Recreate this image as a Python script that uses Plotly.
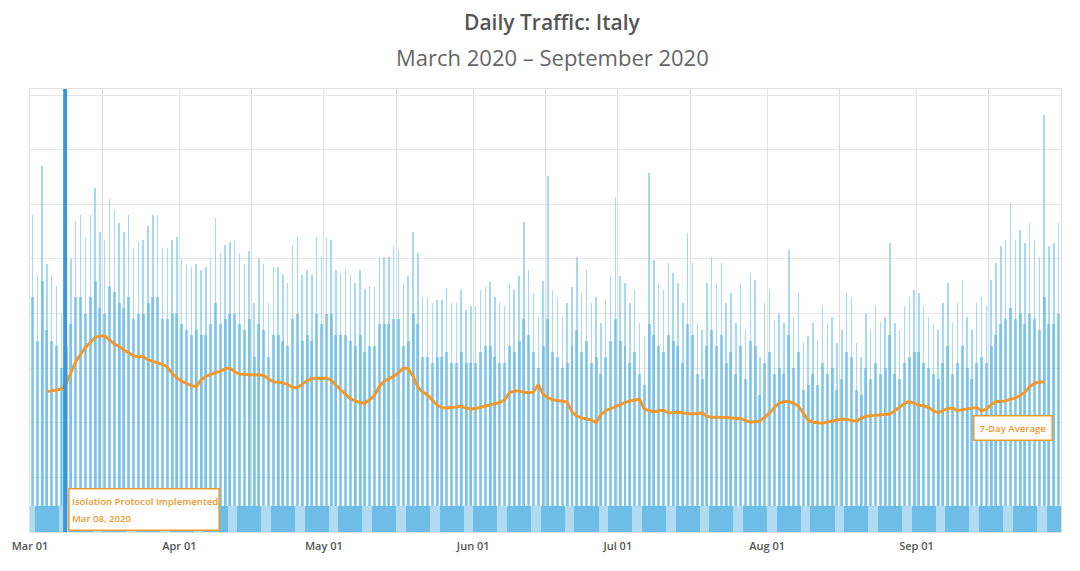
import pandas as pd
import plotly.graph_objects as go

# daily traffic, index units (1 unit = one grid step)
days = pd.date_range("2020-03-01", "2020-09-30", freq="D")

daily_peak = [
    5.8, 4.7, 6.7, 4.9, 4.7, 4.5, 4.0, 4.5, 5.0, 5.7, 5.8, 5.4, 5.8, 6.3, 5.5, 5.35,
    6.1, 5.9, 5.65, 5.5, 5.8, 5.2, 5.3, 5.35, 5.6, 5.8, 5.8, 5.2, 5.2, 5.35, 5.4, 5.0,
    4.9, 4.85, 4.9, 4.8, 4.85, 5.04, 5.74, 5.1, 5.26, 5.3, 5.35, 5.1, 4.9, 5.15, 4.2, 5.0,
    4.9, 4.2, 4.86, 4.86, 4.7, 4.55, 5.23, 5.4, 4.7, 4.8, 4.7, 5.4, 5.04, 5.4, 5.35, 4.8,
    4.75, 4.8, 4.7, 4.55, 4.8, 4.45, 4.5, 4.49, 5.04, 5.04, 5.04, 5.23, 5.17, 4.55, 4.68, 5.5,
    5.1, 4.31, 4.31, 4.19, 4.25, 4.25, 4.46, 4.19, 4.19, 4.43, 4.07, 4.13, 4.13, 4.43, 4.49, 4.58,
    4.31, 4.19, 4.13, 4.55, 4.43, 4.68, 5.68, 4.8, 4.37, 3.94, 4.6, 6.51, 4.43, 4.31, 3.94, 4.19,
    4.49, 5.04, 4.37, 4.8, 4.19, 4.31, 3.82, 4.25, 4.68, 6.14, 4.68, 4.55, 4.19, 4.43, 3.82, 3.58,
    6.57, 4.98, 4.55, 4.43, 4.92, 4.74, 4.55, 4.19, 5.47, 4.92, 3.82, 3.7, 4.55, 5.04, 4.55, 4.92,
    4.19, 4.37, 3.82, 4.55, 3.7, 4.74, 4.62, 3.21, 4.19, 4.43, 3.88, 4.0, 3.82, 5.16, 3.94, 4.37,
    3.46, 3.58, 3.82, 3.52, 4.13, 3.82, 3.94, 3.46, 3.7, 4.37, 4.31, 3.46, 3.21, 4.0, 3.7, 4.13,
    3.85, 3.94, 5.29, 3.82, 3.7, 4.13, 4.31, 4.43, 4.37, 4.13, 3.94, 3.82, 3.7, 4.19, 4.55, 3.82,
    4.19, 4.62, 3.94, 3.7, 4.19, 4.31, 4.13, 4.62, 4.92, 5.23, 5.35, 6.02, 5.35, 5.53, 5.29, 5.65,
    5.35, 5.04, 7.64, 5.23, 5.29, 5.65,
]

# top of the dense daytime band, per day
daily_body = [
    4.3, 3.5, 4.6, 3.7, 3.5, 3.4, 3.0, 3.4, 3.8, 4.3, 4.3, 4.0, 4.3, 4.6, 4.1, 4.0,
    4.5, 4.4, 4.2, 4.1, 4.3, 3.9, 4.0, 4.0, 4.2, 4.3, 4.3, 3.9, 3.9, 4.0, 4.0, 3.8,
    3.7, 3.6, 3.7, 3.6, 3.6, 3.8, 4.2, 3.8, 3.9, 4.0, 4.0, 3.8, 3.7, 3.9, 3.2, 3.8,
    3.7, 3.2, 3.6, 3.6, 3.5, 3.4, 3.9, 4.0, 3.5, 3.6, 3.5, 4.0, 3.8, 4.0, 4.0, 3.6,
    3.6, 3.6, 3.5, 3.4, 3.6, 3.3, 3.4, 3.4, 3.8, 3.8, 3.8, 3.9, 3.9, 3.4, 3.5, 4.0,
    3.8, 3.2, 3.2, 3.1, 3.2, 3.2, 3.3, 3.1, 3.1, 3.3, 3.1, 3.1, 3.1, 3.3, 3.4, 3.4,
    3.2, 3.1, 3.1, 3.4, 3.3, 3.5, 3.9, 3.6, 3.3, 3.0, 3.4, 3.9, 3.3, 3.2, 3.0, 3.1,
    3.4, 3.7, 3.3, 3.5, 3.1, 3.2, 2.9, 3.2, 3.5, 3.9, 3.5, 3.4, 3.1, 3.3, 2.9, 2.7,
    3.8, 3.6, 3.4, 3.3, 3.6, 3.5, 3.4, 3.1, 3.8, 3.6, 2.9, 2.8, 3.4, 3.7, 3.4, 3.6,
    3.1, 3.3, 2.9, 3.4, 2.8, 3.5, 3.4, 2.5, 3.1, 3.3, 2.9, 3.0, 2.9, 3.6, 3.0, 3.3,
    2.6, 2.7, 2.9, 2.7, 3.1, 2.9, 3.0, 2.6, 2.8, 3.3, 3.2, 2.6, 2.5, 3.0, 2.8, 3.1,
    2.9, 3.0, 3.6, 2.9, 2.8, 3.1, 3.2, 3.3, 3.3, 3.1, 3.0, 2.9, 2.8, 3.1, 3.4, 2.9,
    3.1, 3.4, 3.0, 2.8, 3.1, 3.2, 3.1, 3.4, 3.6, 3.8, 3.9, 4.1, 3.9, 4.0, 3.8, 4.0,
    3.9, 3.7, 4.3, 3.8, 3.8, 4.0,
]

night_base = 0.47

# 7-day average, from Mar 04 to Sep 28
avg_start = "2020-03-04"
avg_7day = [
    2.57, 2.58, 2.60, 2.62, 2.72, 2.92, 3.12, 3.25, 3.38, 3.47, 3.56, 3.59, 3.59, 3.52, 3.44, 3.40,
    3.33, 3.28, 3.22, 3.21, 3.21, 3.15, 3.12, 3.10, 3.07, 3.02, 2.90, 2.82, 2.76, 2.72, 2.68, 2.66,
    2.78, 2.85, 2.89, 2.92, 2.94, 2.99, 3.00, 2.93, 2.89, 2.88, 2.88, 2.88, 2.87, 2.87, 2.80, 2.75,
    2.74, 2.73, 2.70, 2.65, 2.64, 2.70, 2.77, 2.81, 2.81, 2.82, 2.82, 2.78, 2.68, 2.60, 2.52, 2.44,
    2.40, 2.37, 2.36, 2.42, 2.50, 2.66, 2.76, 2.80, 2.85, 2.92, 3.00, 2.99, 2.85, 2.65, 2.56, 2.51,
    2.42, 2.32, 2.28, 2.27, 2.28, 2.29, 2.30, 2.27, 2.25, 2.26, 2.28, 2.30, 2.32, 2.34, 2.37, 2.42,
    2.55, 2.58, 2.58, 2.56, 2.55, 2.56, 2.70, 2.52, 2.46, 2.42, 2.41, 2.40, 2.38, 2.20, 2.12, 2.09,
    2.07, 2.05, 2.00, 2.15, 2.22, 2.26, 2.30, 2.33, 2.37, 2.40, 2.42, 2.43, 2.25, 2.22, 2.20, 2.22,
    2.23, 2.18, 2.19, 2.19, 2.18, 2.17, 2.16, 2.17, 2.18, 2.12, 2.10, 2.10, 2.10, 2.10, 2.09, 2.08,
    2.08, 2.04, 2.01, 2.02, 2.03, 2.10, 2.18, 2.28, 2.36, 2.39, 2.39, 2.36, 2.30, 2.18, 2.05, 2.01,
    2.00, 1.99, 2.01, 2.03, 2.06, 2.07, 2.06, 2.05, 2.03, 2.08, 2.12, 2.13, 2.14, 2.14, 2.15, 2.16,
    2.22, 2.28, 2.35, 2.39, 2.36, 2.32, 2.31, 2.28, 2.22, 2.18, 2.22, 2.26, 2.27, 2.22, 2.24, 2.25,
    2.26, 2.28, 2.22, 2.25, 2.33, 2.39, 2.39, 2.40, 2.43, 2.45, 2.50, 2.56, 2.66, 2.72, 2.75, 2.74,
]
avg_days = pd.date_range(avg_start, periods=len(avg_7day), freq="D")

tick_dates = ["2020-03-01", "2020-04-01", "2020-05-01", "2020-06-01",
              "2020-07-01", "2020-08-01", "2020-09-01"]
tick_labels = ["Mar 01", "Apr 01", "May 01", "Jun 01", "Jul 01", "Aug 01", "Sep 01"]

event_date = "2020-03-08 07:00"
event_label = ["Isolation Protocol Implemented", "Mar 08, 2020"]

DAY = 86400000
ORANGE = "#EE9A30"
centers = days + pd.Timedelta(hours=12)
weekend = [d.dayofweek >= 5 for d in days]

fig = go.Figure()

fig.add_trace(go.Bar(x=centers, y=daily_peak, width=DAY * 0.3,
                     marker=dict(color="rgba(110,192,234,0.6)", line_width=0),
                     hoverinfo="skip", showlegend=False))
fig.add_trace(go.Bar(x=centers, y=daily_body, width=DAY * 0.62,
                     marker=dict(color="rgba(92,180,228,0.62)", line_width=0),
                     hoverinfo="skip", showlegend=False))
fig.add_trace(go.Bar(x=centers, y=[night_base] * len(days), width=DAY,
                     marker=dict(color=["#B0DBF3" if w else "#6EBDE7" for w in weekend],
                                 line_width=0),
                     hoverinfo="skip", showlegend=False))
fig.add_trace(go.Scatter(x=avg_days + pd.Timedelta(hours=12), y=avg_7day, mode="lines",
                         line=dict(color=ORANGE, width=3), hoverinfo="skip",
                         showlegend=False))

fig.add_shape(type="line", x0=event_date, x1=event_date, y0=0, y1=1, yref="paper",
              line=dict(color="#3A97DB", width=4))

# event box
fig.add_shape(type="rect", x0="2020-03-09 02:00", x1="2020-04-09 06:00", y0=0.03, y1=0.79,
              fillcolor="white", line=dict(color=ORANGE, width=1.5))
fig.add_annotation(x="2020-03-09 09:00", y=0.56, text=event_label[0], showarrow=False,
                   xanchor="left",
                   font=dict(size=9.6, color=ORANGE, family="Open Sans", weight=600))
fig.add_annotation(x="2020-03-09 09:00", y=0.24, text=event_label[1], showarrow=False,
                   xanchor="left",
                   font=dict(size=9.6, color=ORANGE, family="Open Sans", weight=600))

# series label
fig.add_annotation(x="2020-09-21 02:00", y=1.90, text="7-Day Average", showarrow=False,
                   font=dict(size=9.6, color=ORANGE, family="Open Sans", weight=600),
                   bgcolor="white", bordercolor=ORANGE, borderwidth=1.5, borderpad=5)

fig.add_annotation(x=0.507, y=1.151, xref="paper", yref="paper", yanchor="middle",
                   text="Daily Traffic: Italy", showarrow=False,
                   font=dict(size=21, color="#555555", family="Open Sans", weight=600))
fig.add_annotation(x=0.507, y=1.072, xref="paper", yref="paper", yanchor="middle",
                   text="March 2020 \u2013 September 2020", showarrow=False,
                   font=dict(size=22, color="#666666", family="Open Sans"))

# the page adds an 8px body margin, so the figure is 8px smaller than the window
fig.update_layout(
    width=1072, height=563,
    margin=dict(l=22, r=19, t=81, b=39),
    paper_bgcolor="white", plot_bgcolor="white",
    barmode="overlay", bargap=0,
    font=dict(family="Open Sans", color="#555555"),
)
fig.update_xaxes(range=["2020-03-01", "2020-10-01"], tickvals=tick_dates, ticktext=tick_labels,
                 ticks="", showgrid=True, gridcolor="#E3E3E3",
                 minor=dict(dtick="M1", tick0="2020-03-16", showgrid=True, gridcolor="#DCDCDC"),
                 showline=True, linecolor="#E0E0E0", mirror=True, zeroline=False,
                 automargin=False, ticklabelstandoff=4,
                 tickfont=dict(size=11, color="#555555", weight=600))
fig.update_yaxes(range=[0, 8.11], dtick=1, showticklabels=False, showgrid=True,
                 gridcolor="#E6E6E6", showline=True, linecolor="#E0E0E0", mirror=True,
                 zeroline=False, automargin=False)

fig.write_html("out.html")
